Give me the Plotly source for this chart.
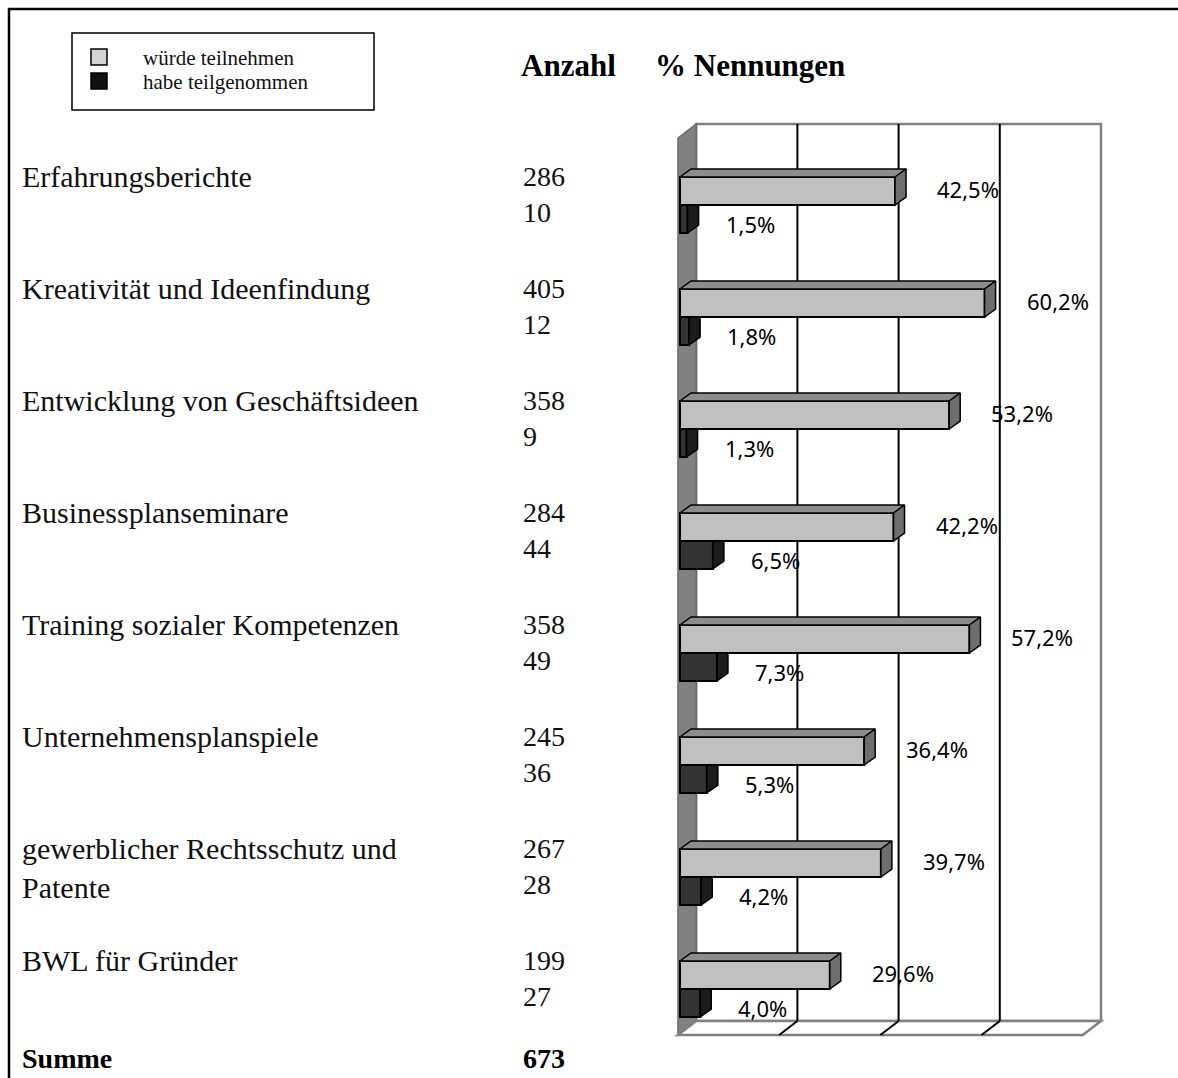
import plotly.graph_objects as go

# ---------------- data ----------------
categories = ["Erfahrungsberichte", "Kreativität und Ideenfindung",
              "Entwicklung von Geschäftsideen", "Businessplanseminare",
              "Training sozialer Kompetenzen", "Unternehmensplanspiele",
              "gewerblicher Rechtsschutz und<br>Patente", "BWL für Gründer"]
count_would = [286, 405, 358, 284, 358, 245, 267, 199]
count_did = [10, 12, 9, 44, 49, 36, 28, 27]
pct_would = [42.5, 60.2, 53.2, 42.2, 57.2, 36.4, 39.7, 29.6]
pct_did = [1.5, 1.8, 1.3, 6.5, 7.3, 5.3, 4.2, 4.0]
total = 673
legend_labels = ["würde teilnehmen", "habe teilgenommen"]
x_ticks = [20, 40, 60]
x_max = 80

# ---------------- layout geometry (pixels) ----------------
W, H = 1178, 1078
PX_PER_PCT = 5.06
X0_PX = 680
ROW0_PX = 205
ROW_PX = 112

def ux(px):
    return px / PX_PER_PCT

def uy(px):
    return px / ROW_PX

def pxp(x):
    return x / W

def pyp(y):
    return 1 - y / H

BAR_H = uy(28)
DBX, DBY = ux(11), uy(8)
FRONT_SHIFT, BACK_SHIFT = -0.4, 3.2
TOP_BACK = uy(124 - ROW0_PX)
TOP_FRONT = uy(138 - ROW0_PX)
FLOOR_FRONT = uy(1035 - ROW0_PX)
FLOOR_BACK = uy(1021 - ROW0_PX)

SERIF = "Liberation Serif, Times New Roman, serif"
SANS = "Noto Sans, DejaVu Sans, sans-serif"

GRAY_FACE, GRAY_TOP, GRAY_SIDE = "#c0c0c0", "#8c8c8c", "#6e6e6e"
DARK_FACE, DARK_SIDE = "#333333", "#1c1c1c"

fig = go.Figure()

n = len(categories)
y_gray = [i - BAR_H / 2 for i in range(n)]
y_dark = [i + BAR_H / 2 for i in range(n)]

# front faces
fig.add_trace(go.Bar(x=pct_would, y=y_gray, orientation="h", width=BAR_H,
                     marker=dict(color=GRAY_FACE, line=dict(color="black", width=2)),
                     name=legend_labels[0], showlegend=False, hoverinfo="skip"))
fig.add_trace(go.Bar(x=pct_did, y=y_dark, orientation="h", width=BAR_H,
                     marker=dict(color=DARK_FACE, line=dict(color="black", width=2)),
                     name=legend_labels[1], showlegend=False, hoverinfo="skip"))

# 3D faces
gt_x, gt_y, gs_x, gs_y, ds_x, ds_y = [], [], [], [], [], []
for i in range(n):
    v = pct_would[i]
    yt = i - BAR_H
    yb = i
    gt_x += [0, v, v + DBX, DBX, 0, None]
    gt_y += [yt, yt, yt - DBY, yt - DBY, yt, None]
    gs_x += [v, v + DBX, v + DBX, v, v, None]
    gs_y += [yt, yt - DBY, yb - DBY, yb, yt, None]
    d = pct_did[i]
    ydt = i
    ydb = i + BAR_H
    ds_x += [d, d + DBX, d + DBX, d, d, None]
    ds_y += [ydt, ydt, ydb - DBY, ydb, ydt, None]

for xs, ys, col in [(gt_x, gt_y, GRAY_TOP), (gs_x, gs_y, GRAY_SIDE), (ds_x, ds_y, DARK_SIDE)]:
    fig.add_trace(go.Scatter(x=xs, y=ys, mode="lines", fill="toself", fillcolor=col,
                             line=dict(color="black", width=1.5), showlegend=False,
                             hoverinfo="skip"))

shapes = []
# back wall
shapes.append(dict(type="rect", xref="x", yref="y", layer="below",
                   x0=BACK_SHIFT, x1=x_max + BACK_SHIFT, y0=FLOOR_BACK, y1=TOP_BACK,
                   fillcolor="white", line=dict(color="#808080", width=2.5)))
# left wall
shapes.append(dict(type="path", xref="x", yref="y", layer="below",
                   path=f"M {FRONT_SHIFT},{TOP_FRONT} L {BACK_SHIFT},{TOP_BACK} L {BACK_SHIFT},{FLOOR_BACK} L {FRONT_SHIFT},{FLOOR_FRONT} Z",
                   fillcolor="#808080", line=dict(color="#6a6a6a", width=1.5)))
# floor
shapes.append(dict(type="path", xref="x", yref="y", layer="below",
                   path=f"M {FRONT_SHIFT},{FLOOR_FRONT} L {x_max + FRONT_SHIFT},{FLOOR_FRONT} L {x_max + BACK_SHIFT},{FLOOR_BACK} L {BACK_SHIFT},{FLOOR_BACK} Z",
                   fillcolor="white", line=dict(color="#808080", width=2.5)))
# gridlines
for t in x_ticks:
    shapes.append(dict(type="line", xref="x", yref="y", layer="below",
                       x0=t + BACK_SHIFT, x1=t + BACK_SHIFT, y0=FLOOR_BACK, y1=TOP_BACK,
                       line=dict(color="black", width=2)))
    shapes.append(dict(type="line", xref="x", yref="y", layer="below",
                       x0=t + FRONT_SHIFT, x1=t + BACK_SHIFT, y0=FLOOR_FRONT, y1=FLOOR_BACK,
                       line=dict(color="black", width=2)))

# outer frame
shapes.append(dict(type="line", xref="paper", yref="paper", x0=pxp(8), x1=1.01,
                   y0=pyp(9), y1=pyp(9), line=dict(color="black", width=2.5)))
shapes.append(dict(type="line", xref="paper", yref="paper", x0=pxp(9), x1=pxp(9),
                   y0=pyp(8), y1=-0.01, line=dict(color="black", width=2.5)))
# legend box
shapes.append(dict(type="rect", xref="paper", yref="paper", x0=pxp(72), x1=pxp(374),
                   y0=pyp(110), y1=pyp(33), line=dict(color="black", width=1.5)))
shapes.append(dict(type="rect", xref="paper", yref="paper", x0=pxp(91), x1=pxp(107),
                   y0=pyp(65), y1=pyp(49), fillcolor="#d4d4d4",
                   line=dict(color="black", width=1.5)))
shapes.append(dict(type="rect", xref="paper", yref="paper", x0=pxp(91), x1=pxp(107),
                   y0=pyp(89), y1=pyp(73), fillcolor="#111111",
                   line=dict(color="black", width=1.5)))

annotations = []
for k, lab in enumerate(legend_labels):
    annotations.append(dict(xref="paper", yref="paper", x=pxp(141), y=pyp(58 + 24 * k),
                            text=lab, showarrow=False, xanchor="left", yanchor="middle",
                            font=dict(family=SERIF, size=21, color="#111")))
annotations.append(dict(xref="paper", yref="paper", x=pxp(519), y=pyp(66),
                        text="<b>Anzahl</b>", showarrow=False, xanchor="left",
                        yanchor="middle", font=dict(family=SERIF, size=31, color="black")))
annotations.append(dict(xref="paper", yref="paper", x=pxp(653), y=pyp(66),
                        text="<b>% Nennungen</b>", showarrow=False, xanchor="left",
                        yanchor="middle", font=dict(family=SERIF, size=31, color="black")))

for i in range(n):
    lines = categories[i].split("<br>")
    for k, line in enumerate(lines):
        annotations.append(dict(xref="paper", yref="y", x=pxp(20), y=i + uy(-29 + 39 * k),
                                text=line, showarrow=False, xanchor="left", yanchor="middle",
                                font=dict(family=SERIF, size=30, color="#111")))
    annotations.append(dict(xref="paper", yref="y", x=pxp(521), y=i + uy(-29),
                            text=str(count_would[i]), showarrow=False, xanchor="left",
                            yanchor="middle", font=dict(family=SERIF, size=28, color="#111")))
    annotations.append(dict(xref="paper", yref="y", x=pxp(521), y=i + uy(7),
                            text=str(count_did[i]), showarrow=False, xanchor="left",
                            yanchor="middle", font=dict(family=SERIF, size=28, color="#111")))
    annotations.append(dict(xref="x", yref="y", x=pct_would[i], y=y_gray[i] + uy(-2),
                            xshift=40, text=f"{pct_would[i]:.1f}".replace(".", ",") + "%",
                            showarrow=False, xanchor="left", yanchor="middle",
                            font=dict(family=SANS, size=22, color="black")))
    annotations.append(dict(xref="x", yref="y", x=pct_did[i], y=y_dark[i] + uy(5),
                            xshift=36, text=f"{pct_did[i]:.1f}".replace(".", ",") + "%",
                            showarrow=False, xanchor="left", yanchor="middle",
                            font=dict(family=SANS, size=22, color="black")))

annotations.append(dict(xref="paper", yref="y", x=pxp(20), y=uy(1058 - ROW0_PX),
                        text="<b>Summe</b>", showarrow=False, xanchor="left", yanchor="middle",
                        font=dict(family=SERIF, size=28, color="black")))
annotations.append(dict(xref="paper", yref="y", x=pxp(521), y=uy(1058 - ROW0_PX),
                        text=f"<b>{total}</b>", showarrow=False, xanchor="left",
                        yanchor="middle", font=dict(family=SERIF, size=28, color="black")))

fig.update_layout(
    width=W, height=H, margin=dict(l=0, r=0, t=0, b=0),
    paper_bgcolor="white", plot_bgcolor="rgba(0,0,0,0)",
    barmode="overlay", showlegend=False,
    xaxis=dict(range=[-X0_PX / PX_PER_PCT, (W - X0_PX) / PX_PER_PCT], domain=[0, 1],
               visible=False, fixedrange=True),
    yaxis=dict(range=[(H - ROW0_PX) / ROW_PX, (0 - ROW0_PX) / ROW_PX], domain=[0, 1],
               visible=False, fixedrange=True),
    shapes=shapes, annotations=annotations,
)

fig.write_html("out.html", config={"displayModeBar": False},
               post_script="document.body.style.margin='0';document.body.style.overflow='hidden';")
